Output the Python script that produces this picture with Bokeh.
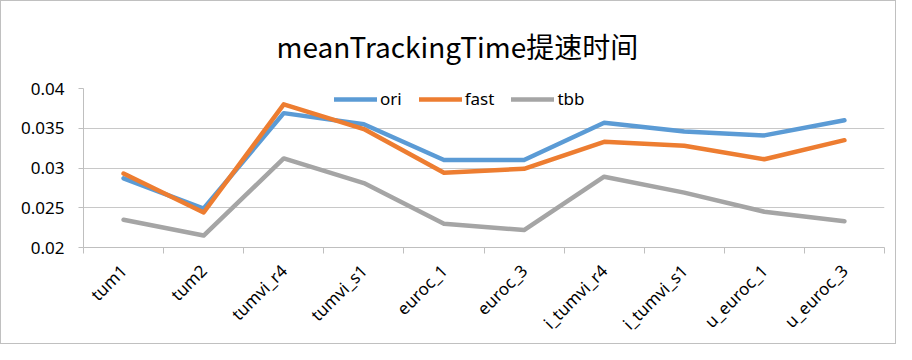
from bokeh.plotting import figure
from bokeh.models import FixedTicker, NumeralTickFormatter, Range1d, Legend, LegendItem, ColumnDataSource
from bokeh.embed import file_html
from bokeh.resources import INLINE
from math import pi

categories = ["tum1", "tum2", "tumvi_r4", "tumvi_s1", "euroc_1", "euroc_3",
              "i_tumvi_r4", "i_tumvi_s1", "u_euroc_1", "u_euroc_3"]
ori = [0.0287, 0.0249, 0.0369, 0.0355, 0.0310, 0.0310, 0.0357, 0.0346, 0.0341, 0.0360]
fast = [0.0293, 0.0244, 0.0380, 0.0349, 0.0294, 0.0299, 0.0333, 0.0328, 0.0311, 0.0335]
tbb = [0.0235, 0.0215, 0.0312, 0.0281, 0.0230, 0.0222, 0.0289, 0.0269, 0.0245, 0.0233]
y_ticks = [0.02, 0.025, 0.03, 0.035, 0.04]
title_text = "meanTrackingTime提速时间"

xs = [i + 0.5 for i in range(len(categories))]
src = ColumnDataSource(dict(x=xs, ori=ori, fast=fast, tbb=tbb))

FONT = "Noto Sans"
p = figure(width=896, height=344, output_backend="svg", toolbar_location=None,
           x_range=Range1d(0, len(categories)), y_range=Range1d(y_ticks[0], y_ticks[-1]),
           min_border_left=82, min_border_right=13, min_border_top=86, min_border_bottom=97,
           title=title_text)
p.styles = {"border": "1px solid #c0c0c0", "box-sizing": "border-box"}
p.outline_line_color = None
p.background_fill_color = "white"
p.border_fill_color = "white"

p.title.align = "left"
p.title.offset = 193
p.title.text_font = "Noto Sans CJK SC"
p.title.text_font_size = "28px"
p.title.text_font_style = "normal"
p.title.text_color = "black"
p.title.standoff = 45

colors = {"ori": "#5B9BD5", "fast": "#ED7D31", "tbb": "#A5A5A5"}
items = []
for name in ["ori", "fast", "tbb"]:
    r = p.line("x", name, source=src, line_color=colors[name], line_width=4.5,
               line_join="round", line_cap="round")
    items.append(LegendItem(label=name, renderers=[r]))

# x axis
xa = p.xaxis[0]
xa.ticker = FixedTicker(ticks=xs, minor_ticks=list(range(len(categories) + 1)))
xa.major_label_overrides = {x: c for x, c in zip(xs, categories)}
xa.major_label_orientation = pi / 4
xa.major_tick_line_color = None
xa.major_tick_out = 0
xa.major_tick_in = 0
xa.minor_tick_line_color = "#bfbfbf"
xa.minor_tick_out = 6
xa.minor_tick_in = 0
xa.axis_line_color = "#bfbfbf"
xa.major_label_text_font = FONT
xa.major_label_text_font_size = "17px"
xa.major_label_text_color = "black"
xa.major_label_standoff = 14

# y axis
ya = p.yaxis[0]
ya.ticker = FixedTicker(ticks=y_ticks)
ya.formatter = NumeralTickFormatter(format="0.[000]")
ya.axis_line_color = "#bfbfbf"
ya.major_tick_line_color = "#bfbfbf"
ya.major_tick_out = 5
ya.major_tick_in = 0
ya.minor_tick_line_color = None
ya.major_label_text_font = FONT
ya.major_label_text_font_size = "17px"
ya.major_label_text_color = "black"
ya.major_label_standoff = 14

p.xgrid.grid_line_color = None
p.ygrid.grid_line_color = "#c8c8c8"
p.ygrid.ticker = FixedTicker(ticks=y_ticks)

legend = Legend(items=items, orientation="horizontal", location=(251, 137),
                padding=0, margin=0, spacing=17, label_standoff=3,
                glyph_width=43, glyph_height=20, label_height=20,
                label_text_font=FONT, label_text_font_size="17px",
                label_text_color="black", border_line_color=None,
                background_fill_alpha=0)
p.add_layout(legend, "center")

open("out.html", "w").write(file_html(p, INLINE))
